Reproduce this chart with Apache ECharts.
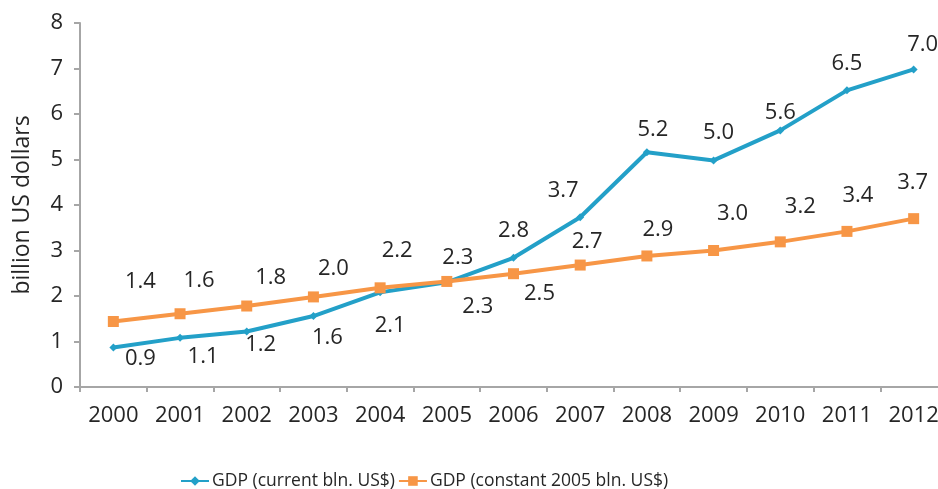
<!DOCTYPE html>
<html>
<head>
<meta charset="utf-8">
<script src="https://cdn.jsdelivr.net/npm/echarts@6/dist/echarts.min.js"></script>
<style>html,body{margin:0;padding:0;background:#fff;overflow:hidden;}#c{width:960px;height:489px;}</style>
</head>
<body>
<div id="c"></div>
<script>
const years = ['2000','2001','2002','2003','2004','2005','2006','2007','2008','2009','2010','2011','2012'];
const gdpCurrent = [0.87, 1.08, 1.22, 1.56, 2.08, 2.30, 2.84, 3.73, 5.16, 4.98, 5.64, 6.52, 6.98];
const gdpConstant = [1.44, 1.61, 1.78, 1.98, 2.18, 2.32, 2.49, 2.68, 2.88, 3.00, 3.19, 3.42, 3.70];
const seriesNames = ['GDP (current bln. US$)', 'GDP (constant 2005 bln. US$)'];
const yTicks = { min: 0, max: 8, interval: 1 };

// label placement (layout only)
const offCurrent = [[27,11],[23,19],[14,13],[14,22],[10,33],[31,24],[0,-27],[-17,-27],[6,-22],[5,-28],[0,-18],[0,-27],[9,-25]];
const offConstant = [[27,-40],[19,-33],[24,-28],[20,-28],[17,-37],[11,-24],[26,20],[7,-23],[11,-26],[19,-37],[20,-35],[11,-36],[-1,-36]];

const font = '"Open Sans", "Liberation Sans", sans-serif';
const txt = '#262626';
const axisGray = '#a6a6a6';

function mk(vals, offs) {
  return vals.map((v, i) => ({ value: v, label: { offset: offs[i] } }));
}

const chart = echarts.init(document.getElementById('c'));
chart.setOption({
  animation: false,
  backgroundColor: '#fff',
  grid: { left: 80, top: 23, width: 867, height: 364, containLabel: false },
  legend: {
    left: 175, top: 467,
    itemWidth: 28, itemHeight: 12, itemGap: 3,
    textStyle: { fontFamily: font, fontSize: 17.5, color: txt, padding: [0,0,0,-2] },
    data: seriesNames
  },
  xAxis: {
    type: 'category', data: years, boundaryGap: true,
    axisLine: { lineStyle: { color: axisGray, width: 2 } },
    axisTick: { show: true, length: 5, lineStyle: { color: axisGray, width: 2 } },
    axisLabel: { fontFamily: font, fontSize: 22, color: txt, margin: 18 },
    splitLine: { show: false }
  },
  yAxis: {
    type: 'value', min: yTicks.min, max: yTicks.max, interval: yTicks.interval,
    name: 'billion US dollars', nameLocation: 'middle', nameRotate: 90, nameGap: 46,
    nameTextStyle: { fontFamily: font, fontSize: 23, color: txt },
    axisLine: { show: true, lineStyle: { color: axisGray, width: 2 } },
    axisTick: { show: true, length: 6, lineStyle: { color: axisGray, width: 2 } },
    axisLabel: { fontFamily: font, fontSize: 22, color: txt, margin: 17 },
    splitLine: { show: false }
  },
  series: [
    {
      name: seriesNames[0], type: 'line', data: mk(gdpCurrent, offCurrent),
      symbol: 'diamond', symbolSize: 8, showAllSymbol: true,
      lineStyle: { color: '#23a0c8', width: 4 },
      itemStyle: { color: '#23a0c8' },
      label: { show: true, position: 'inside', fontFamily: font, fontSize: 22, color: txt,
        formatter: p => p.value.toFixed(1) },
      z: 3
    },
    {
      name: seriesNames[1], type: 'line', data: mk(gdpConstant, offConstant),
      symbol: 'rect', symbolSize: 11, showAllSymbol: true,
      lineStyle: { color: '#f79646', width: 4 },
      itemStyle: { color: '#f79646' },
      label: { show: true, position: 'inside', fontFamily: font, fontSize: 22, color: txt,
        formatter: p => p.value.toFixed(1) },
      z: 4
    }
  ]
});
</script>
</body>
</html>
